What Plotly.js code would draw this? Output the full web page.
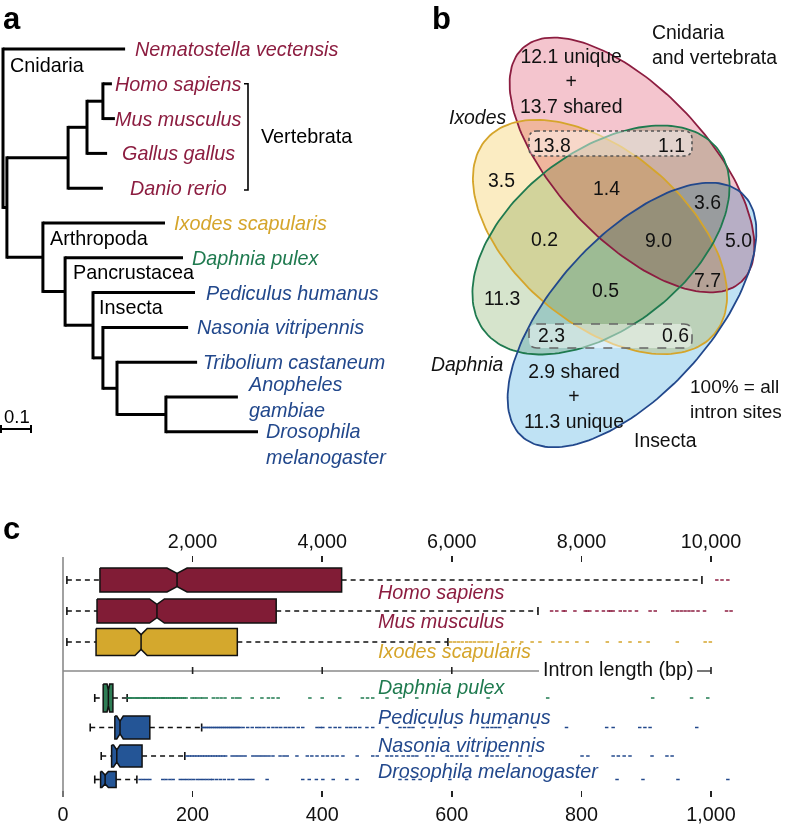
<!DOCTYPE html>
<html><head><meta charset="utf-8">
<script src="https://cdn.plot.ly/plotly-3.0.1.min.js"></script>
<style>html,body{margin:0;padding:0;background:#fff;}#chart{width:786px;height:826px;}
.subplot.x4y4 .js-fill{mix-blend-mode:multiply;}</style>
</head><body><div id="chart"></div>
<script>
// ================= DATA =================
// ---- Panel a: phylogeny (branch-length units) ----
const tipNames = ['Nematostella vectensis','Homo sapiens','Mus musculus','Gallus gallus','Danio rerio','Ixodes scapularis','Daphnia pulex','Pediculus humanus','Nasonia vitripennis','Tribolium castaneum','Anopheles<br>gambiae','Drosophila<br>melanogaster'];
const tipGroup = ['vert','vert','vert','vert','vert','ixodes','daphnia','insect','insect','insect','insect','insect'];
const tipDepth = [0.407,0.363,0.373,0.347,0.333,0.540,0.600,0.640,0.617,0.647,0.783,0.850];
const tipParent = ['root','hm','hm','hmg','vert','arth','pancr','insecta','nasrest','tribdip','dipt','dipt'];
const nodeIds = ['root','bilat','vert','hmg','hm','arth','pancr','insecta','nasrest','tribdip','dipt'];
const nodeParent = [null,'root','bilat','vert','hmg','bilat','arth','pancr','insecta','nasrest','tribdip'];
const nodeDepth = [0,0.013,0.217,0.280,0.333,0.133,0.207,0.300,0.333,0.380,0.543];
const cladeNames = ['Cnidaria','Arthropoda','Pancrustacea','Insecta'];
const bracketName = 'Vertebrata';
const scaleBarLength = 0.1;
const scaleBarLabel = '0.1';

// ---- Panel b: Venn of shared intron sites (% of all sites) ----
const vennSetNames = ['Cnidaria<br>and vertebrata','<i>Ixodes</i>','<i>Daphnia</i>','Insecta'];
const vennRegionValues = ['13.8','1.1','3.5','1.4','3.6','0.2','9.0','5.0','7.7','11.3','0.5','2.3','0.6'];
const cnidVertUnique = 12.1, cnidVertShared = 13.7;
const insectaShared = 2.9, insectaUnique = 11.3;
const vennNote = '100% = all<br>intron sites';

// ---- Panel c: intron length box plots (bp) ----
const topSpecies = ['Homo sapiens','Mus musculus','Ixodes scapularis'];
const topMin   = [60, 60, 60];
const topQ1    = [570, 525, 510];
const topMed   = [1760, 1450, 1205];
const topQ3    = [4300, 3290, 2690];
const topMax   = [9860, 7330, 5940];
const topNotch = [155, 115, 95];
const homoOut = [10090, 10170, 10260];
const musOut = [7540,7620,7720,7750,7900,8060,8090,8130,8240,8340,8420,8450,8490,8600,8670,8750,8850,9060,9140,9410,9480,9540,9600,9660,9720,9800,9900,10240,10310];
const ixoOut = [5980,6040,6100,6160,6230,6290,6350,6420,6480,6540,6610,6820,6940,7080,7240,7360,7560,7670,7780,7930,8090,8400,8600,8750,8900,9030,9480,9910,9990];

const botSpecies = ['Daphnia pulex','Pediculus humanus','Nasonia vitripennis','Drosophila melanogaster'];
const botMin   = [49, 42, 59, 49];
const botQ1    = [62, 80, 75, 58];
const botMed   = [70, 88, 83, 65];
const botQ3    = [77, 134, 122, 82];
const botMax   = [99, 214, 188, 114];
const botNotch = [2, 5, 5, 5];
const dapOut = [100,103,105,108,111,114,116,119,122,125,127,130,133,136,139,141,144,147,150,153,155,158,161,164,167,170,172,175,178,181,184,187,190,199,203,207,212,216,221,232,238,244,250,262,268,273,292,307,317,324,332,381,400,427,462,470,478,500,520,546,656,748,910,970,995];
const pedOut = [216,219,222,225,228,231,234,237,240,243,246,249,252,255,258,261,264,267,270,273,278,285,292,299,304,310,317,324,330,336,343,349,355,363,370,392,397,401,412,420,427,438,444,451,458,469,478,500,520,527,534,540,556,569,582,605,648,655,662,668,674,690,728,777,839,849,890,898,906,978];
const nasOut = [191,195,199,203,207,211,215,219,223,227,231,235,239,243,247,251,261,266,271,276,281,293,298,303,308,313,318,324,335,341,346,361,377,384,392,401,408,416,423,432,454,478,485,500,507,515,525,533,540,546,562,571,593,600,608,615,623,639,654,662,670,678,686,705,721,801,810,849,857,866,875,909,932,940];
const droOut = [119,124,129,134,154,159,165,170,181,186,191,196,201,207,212,217,222,227,231,237,243,249,256,262,273,278,283,288,293,315,370,380,391,401,417,438,454,520,530,541,551,597,623,855,895,949,1026];

const topTickVals = [2000,4000,6000,8000,10000];
const topTickText = ['2,000','4,000','6,000','8,000','10,000'];
const botTickVals = [0,200,400,600,800,1000];
const botTickText = ['0','200','400','600','800','1,000'];
const axisTitle = 'Intron length (bp)';

// ================= LAYOUT / STYLE =================
const W = 786, H = 826;
const px = x => x / W, py = y => 1 - y / H;
const FONT = 'Liberation Sans, Arial, Helvetica, sans-serif';
const FS = 19.8, FSB = 19.4;
const COL = {vert:'#8C1D40', ixodes:'#D5A52B', daphnia:'#1F7A4F', insect:'#22488C'};
const BOXCOL = {vert:'#811C36', ixodes:'#D4A82D', daphnia:'#2E7D55', insect:'#245596'};

const traces = [];
const annotations = [];
const shapes = [];

// ---------- Panel a ----------
const A_X0 = 3, A_PPU = 300, A_Y0 = 49, A_ROW = 34.8;
const aX = p => (p - A_X0) / A_PPU, aRow = p => (p - A_Y0) / A_ROW;
const nodeY = {};
function childYs(id){
  const ys = [];
  tipParent.forEach((p,i)=>{ if(p===id) ys.push(i); });
  nodeIds.forEach((n,k)=>{ if(nodeParent[k]===id) ys.push(yOf(n)); });
  return ys;
}
function yOf(id){
  if(!(id in nodeY)){ const ys = childYs(id); nodeY[id] = (Math.min(...ys)+Math.max(...ys))/2; }
  return nodeY[id];
}
const depthOf = id => nodeDepth[nodeIds.indexOf(id)];
const tx = [], ty = [];
nodeIds.forEach((id,j)=>{
  const ys = childYs(id);
  tx.push(nodeDepth[j], nodeDepth[j], null); ty.push(Math.min(...ys)-0.04, Math.max(...ys)+0.04, null);
  if(nodeParent[j]){ tx.push(depthOf(nodeParent[j]), nodeDepth[j], null); ty.push(yOf(id), yOf(id), null); }
});
tipNames.forEach((n,i)=>{ tx.push(depthOf(tipParent[i]), tipDepth[i], null); ty.push(i, i, null); });
traces.push({type:'scatter', mode:'lines', x:tx, y:ty, xaxis:'x3', yaxis:'y3',
  line:{color:'#000', width:3}, hoverinfo:'skip'});

const tipLabelPx = [133,178,178,178,178,172,190,204,195,201,246,264];
const tipLabelAnchor = ['left','center','center','center','center','left','left','left','left','left','left','left'];
const tipLabelShift = [0,0,0,0,0,0,0,0,0,0,0,-12];
tipNames.forEach((n,i)=>{
  annotations.push({xref:'x3', yref:'y3', x:aX(tipLabelPx[i]), y:i, yshift:tipLabelShift[i],
    text:'<i>'+n+'</i>', showarrow:false, xanchor:tipLabelAnchor[i], yanchor:'middle', align:'left',
    font:{color:COL[tipGroup[i]], size:FS}});
});
const cladePx = [[8,65],[48,238],[71,272],[97,307]];
cladeNames.forEach((c,i)=>{
  annotations.push({xref:'x3', yref:'y3', x:aX(cladePx[i][0]), y:aRow(cladePx[i][1]), text:c,
    showarrow:false, xanchor:'left', yanchor:'middle', font:{color:'#000', size:FS}});
});
const brX = aX(248), brT = aX(244);
traces.push({type:'scatter', mode:'lines', xaxis:'x3', yaxis:'y3', hoverinfo:'skip',
  x:[brT, brX, brX, brT], y:[1, 1, 4.05, 4.05], line:{color:'#000', width:1.6}});
annotations.push({xref:'x3', yref:'y3', x:aX(259), y:aRow(136), text:bracketName, showarrow:false,
  xanchor:'left', yanchor:'middle', font:{color:'#000', size:FS}});
const sb0 = aX(1);
traces.push({type:'scatter', mode:'lines', xaxis:'x3', yaxis:'y3', hoverinfo:'skip',
  x:[sb0, sb0, null, sb0, sb0+scaleBarLength, null, sb0+scaleBarLength, sb0+scaleBarLength],
  y:[aRow(425), aRow(433), null, aRow(429), aRow(429), null, aRow(425), aRow(433)],
  line:{color:'#000', width:2}});
annotations.push({xref:'x3', yref:'y3', x:aX(2), y:aRow(416), text:scaleBarLabel, showarrow:false,
  xanchor:'left', yanchor:'middle', font:{color:'#000', size:18.5}});

// ---------- Panel b ----------
const ellipses = [
  {cx:632, cy:165, a:160, b:75, th:46.8, fill:'rgb(244,197,206)', line:'#8C1D40'},
  {cx:600, cy:237, a:150, b:86, th:40.4, fill:'rgb(251,236,194)', line:'#D5A52B'},
  {cx:601, cy:240, a:148, b:88, th:-38, fill:'rgb(214,228,204)', line:'#1F7A4F'},
  {cx:632, cy:315, a:164, b:78, th:-47.8, fill:'rgb(191,226,244)', line:'#22488C'}
];
function ellPts(e){
  const xs=[], ys=[], th=e.th*Math.PI/180;
  for(let k=0;k<=180;k++){
    const t = k/180*2*Math.PI;
    xs.push(e.cx + e.a*Math.cos(t)*Math.cos(th) - e.b*Math.sin(t)*Math.sin(th));
    ys.push(e.cy + e.a*Math.cos(t)*Math.sin(th) + e.b*Math.sin(t)*Math.cos(th));
  }
  return [xs, ys];
}
ellipses.forEach(e=>{
  const [xs, ys] = ellPts(e);
  traces.push({type:'scatter', mode:'lines', x:xs, y:ys, xaxis:'x4', yaxis:'y4', fill:'toself',
    fillcolor:e.fill, line:{width:0, color:'rgba(0,0,0,0)'}, hoverinfo:'skip'});
});
ellipses.forEach(e=>{
  const [xs, ys] = ellPts(e);
  traces.push({type:'scatter', mode:'lines', x:xs, y:ys, xaxis:'x4', yaxis:'y4',
    line:{width:1.8, color:e.line}, hoverinfo:'skip'});
});
function roundRect(x0,y0,x1,y1,r){
  return `M${x0+r},${y0} L${x1-r},${y0} Q${x1},${y0} ${x1},${y0+r} L${x1},${y1-r} Q${x1},${y1} ${x1-r},${y1} `+
         `L${x0+r},${y1} Q${x0},${y1} ${x0},${y1-r} L${x0},${y0+r} Q${x0},${y0} ${x0+r},${y0} Z`;
}
shapes.push({type:'path', xref:'x4', yref:'y4', path:roundRect(529,131,692,156,8),
  fillcolor:'rgba(255,255,255,0.45)', line:{color:'#555', width:1.6, dash:'dot'}});
shapes.push({type:'path', xref:'x4', yref:'y4', path:roundRect(529,324,692,348,8),
  fillcolor:'rgba(255,255,255,0.45)', line:{color:'#666', width:1.6, dash:'dash'}});

const vennRegionPos = [[552,145],[671,145],[501,180],[606,188],[707,202],[544,239],[658,240],[738,240],[707,280],[502,298],[605,290],[551,335],[675,335]];
vennRegionValues.forEach((v,i)=>{
  annotations.push({xref:'x4', yref:'y4', x:vennRegionPos[i][0], y:vennRegionPos[i][1], text:v,
    showarrow:false, xanchor:'center', yanchor:'middle', font:{color:'#111', size:FSB}});
});
const vennSetPos = [[650,44,'left'],[477,117,'center'],[467,364,'center'],[665,440,'center']];
vennSetNames.forEach((s,i)=>{
  annotations.push({xref:'x4', yref:'y4', x:vennSetPos[i][0], y:vennSetPos[i][1], text:s,
    showarrow:false, xanchor:vennSetPos[i][2], yanchor:'middle', align:'left', font:{color:'#111', size:FSB}});
});
annotations.push({xref:'x4', yref:'y4', x:571, y:81, text:cnidVertUnique.toFixed(1)+' unique<br>+<br>'+cnidVertShared.toFixed(1)+' shared',
  showarrow:false, xanchor:'center', yanchor:'middle', align:'center', font:{color:'#111', size:FSB}});
annotations.push({xref:'x4', yref:'y4', x:574, y:396, text:insectaShared.toFixed(1)+' shared<br>+<br>'+insectaUnique.toFixed(1)+' unique',
  showarrow:false, xanchor:'center', yanchor:'middle', align:'center', font:{color:'#111', size:FSB}});
annotations.push({xref:'x4', yref:'y4', x:688, y:399, text:vennNote,
  showarrow:false, xanchor:'left', yanchor:'middle', align:'left', font:{color:'#111', size:19}});

// ---------- Panel c ----------
const C_X0 = 63, C_PPU = 0.648;
const topRowY = [580, 611, 642], topHalf = [12, 12, 13.5], topLabelY = [592, 621, 651];
const botRowY = [698, 727.5, 756, 779.5], botHalf = [14, 11.5, 11, 8], botLabelY = [687, 717, 745, 771];
const NOTCH_K = 0.55;
function addBoxes(xa, rowY, half, mins, q1, med, q3, maxs, notch, groups, outs, labels, labelY, labelX){
  rowY.forEach((y,i)=>{
    const g = groups[i];
    const cap = 4;
    traces.push({type:'scatter', mode:'lines', xaxis:xa, yaxis:'y', hoverinfo:'skip',
      x:[mins[i], q1[i], null, q3[i], maxs[i]], y:[y, y, null, y, y],
      line:{color:'#111', width:1.6, dash:'5px,4px'}});
    traces.push({type:'scatter', mode:'lines', xaxis:xa, yaxis:'y', hoverinfo:'skip',
      x:[mins[i], mins[i], null, maxs[i], maxs[i]], y:[y-cap, y+cap, null, y-cap, y+cap],
      line:{color:'#111', width:1.6}});
    traces.push({type:'scatter', mode:'markers', xaxis:xa, yaxis:'y', hoverinfo:'skip',
      x:outs[i], y:outs[i].map(()=>y),
      marker:{symbol:'line-ew-open', size:2.5, line:{width:1.5, color:COL[g]}, color:COL[g]}});
    const h = half[i], hn = half[i]*NOTCH_K, n = notch[i];
    traces.push({type:'scatter', mode:'lines', xaxis:xa, yaxis:'y', hoverinfo:'skip', fill:'toself',
      fillcolor:BOXCOL[g],
      x:[q1[i], med[i]-n, med[i], med[i]+n, q3[i], q3[i], med[i]+n, med[i], med[i]-n, q1[i], q1[i]],
      y:[y-h, y-h, y-hn, y-h, y-h, y+h, y+h, y+hn, y+h, y+h, y-h],
      line:{color:'#111', width:1.5}});
    traces.push({type:'scatter', mode:'lines', xaxis:xa, yaxis:'y', hoverinfo:'skip',
      x:[med[i], med[i]], y:[y-hn, y+hn], line:{color:'#111', width:1.5}});
    annotations.push({xref:xa, yref:'y', x:labelX, y:labelY[i], text:'<i>'+labels[i]+'</i>', showarrow:false,
      xanchor:'left', yanchor:'middle', font:{color:COL[g], size:FS}});
  });
}
addBoxes('x2', topRowY, topHalf, topMin, topQ1, topMed, topQ3, topMax, topNotch,
  ['vert','vert','ixodes'], [homoOut, musOut, ixoOut], topSpecies, topLabelY, (376-C_X0)/C_PPU*10);
addBoxes('x', botRowY, botHalf, botMin, botQ1, botMed, botQ3, botMax, botNotch,
  ['daphnia','insect','insect','insect'], [dapOut, pedOut, nasOut, droOut], botSpecies, botLabelY, (376-C_X0)/C_PPU);

shapes.push({type:'line', xref:'paper', yref:'paper', x0:px(C_X0), x1:px(C_X0), y0:py(557), y1:py(797),
  line:{color:'#8a8a8a', width:1.6}});
const sepY = 671;
shapes.push({type:'line', xref:'x2', yref:'y', x0:0, x1:(539-C_X0)/C_PPU*10, y0:sepY, y1:sepY, line:{color:'#8a8a8a', width:1.6}});
shapes.push({type:'line', xref:'x2', yref:'y', x0:(697-C_X0)/C_PPU*10, x1:10000, y0:sepY, y1:sepY, line:{color:'#555', width:1.6}});
[2000,4000,6000,10000].forEach(v=>{
  shapes.push({type:'line', xref:'x2', yref:'y', x0:v, x1:v, y0:sepY-4, y1:sepY+3, line:{color:'#222', width:1.6}});
});
annotations.push({xref:'x2', yref:'y', x:(541-C_X0)/C_PPU*10, y:669, text:axisTitle, showarrow:false,
  xanchor:'left', yanchor:'middle', font:{color:'#111', size:FS}});

[['a',1,18],['b',430,18],['c',1,528]].forEach(([t,x,y])=>{
  annotations.push({xref:'paper', yref:'paper', x:px(x), y:py(y), text:'<b>'+t+'</b>', showarrow:false,
    xanchor:'left', yanchor:'middle', font:{size:31, color:'#000'}});
});

const hidden = {visible:false, fixedrange:true};
const layout = {
  width:W, height:H, margin:{l:0,r:0,t:0,b:0}, showlegend:false,
  paper_bgcolor:'#fff', plot_bgcolor:'rgba(0,0,0,0)',
  font:{family:FONT, size:FS, color:'#111'},
  xaxis:{domain:[px(40), px(770)], range:[(40-C_X0)/C_PPU, (770-C_X0)/C_PPU], anchor:'y',
    showgrid:false, zeroline:false, showline:false, ticks:'outside', ticklen:6, tickwidth:1.6, tickcolor:'#222',
    tickvals:botTickVals, ticktext:botTickText, tickfont:{size:FS, color:'#111'}},
  xaxis2:{overlaying:'x', side:'top', anchor:'y', range:[(40-C_X0)/C_PPU*10, (770-C_X0)/C_PPU*10],
    showgrid:false, zeroline:false, showline:false, ticks:'outside', ticklen:6, tickwidth:1.6, tickcolor:'#222',
    tickvals:topTickVals, ticktext:topTickText, tickfont:{size:FS, color:'#111'}},
  yaxis:Object.assign({domain:[py(790), py(563)], range:[790, 563]}, hidden),
  xaxis3:Object.assign({domain:[0, px(400)], range:[aX(0), aX(400)], anchor:'y3'}, hidden),
  yaxis3:Object.assign({domain:[py(470), 1], range:[aRow(470), aRow(0)], anchor:'x3'}, hidden),
  xaxis4:Object.assign({domain:[px(420), 1], range:[420, 786], anchor:'y4'}, hidden),
  yaxis4:Object.assign({domain:[py(470), 1], range:[470, 0], anchor:'x4'}, hidden),
  annotations:annotations, shapes:shapes
};
Plotly.newPlot('chart', traces, layout, {staticPlot:true, displayModeBar:false});
</script></body></html>
